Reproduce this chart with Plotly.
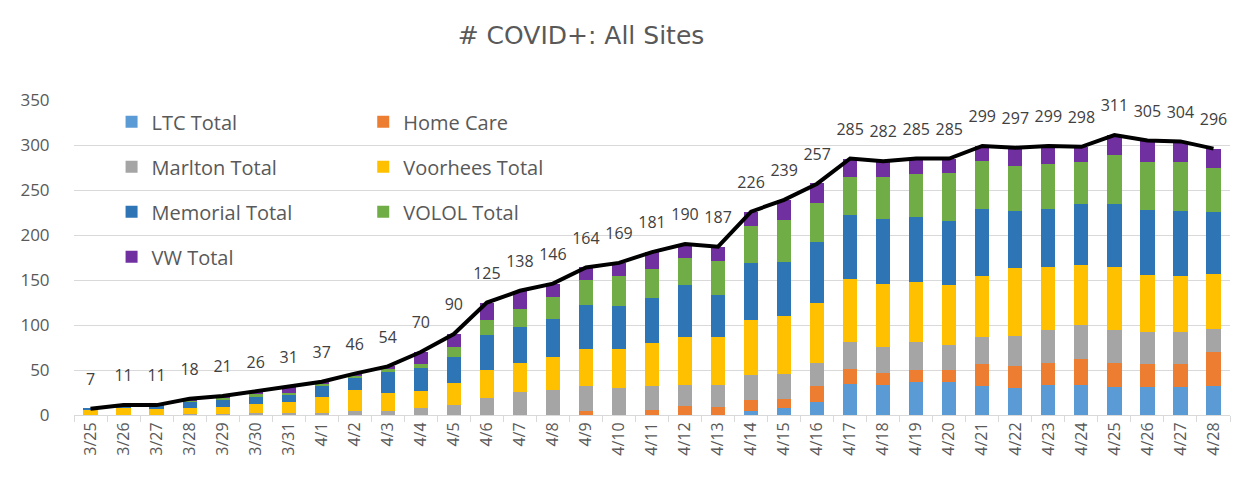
import plotly.graph_objects as go

dates = ["3/25","3/26","3/27","3/28","3/29","3/30","3/31","4/1","4/2","4/3","4/4","4/5",
         "4/6","4/7","4/8","4/9","4/10","4/11","4/12","4/13","4/14","4/15","4/16",
         "4/17","4/18","4/19","4/20","4/21","4/22","4/23","4/24","4/25","4/26","4/27","4/28"]

ltc      = [0,0,0,0,0,0,0,0,0,0,0,0, 0,0,0,0,0,0,0,0,4,8,15, 35,33,37,37,32,30,33,33,31,31,31,32]
homecare = [0,0,0,0,0,0,0,0,0,0,0,0, 0,0,0,4,0,6,10,9,13,10,17, 16,14,13,13,25,24,25,29,27,26,26,38]
marlton  = [0,0,0,1,1,2,2,2,4,4,8,11, 19,26,28,28,30,26,23,24,27,28,26, 30,29,31,28,30,34,37,38,36,35,35,26]
voorhees = [6,8,7,7,8,10,13,18,24,21,19,25, 31,32,37,41,43,48,54,54,62,64,67, 70,70,67,66,67,75,70,67,70,64,63,61]
memorial = [1,2,3,7,8,9,8,13,14,23,25,29, 39,40,42,49,48,50,58,46,63,60,67, 71,72,72,72,75,64,64,68,70,72,72,69]
volol    = [0,1,0,1,2,2,2,1,1,3,5,11, 17,20,24,28,33,32,29,38,41,47,44, 43,47,48,53,53,50,50,46,55,53,54,48]
vw       = [0,0,1,2,2,3,6,3,3,3,13,14, 19,20,15,14,15,19,16,16,16,22,22, 20,17,17,16,17,20,20,17,22,24,23,22]
totals   = [7,11,11,18,21,26,31,37,46,54,70,90,125,138,146,164,169,181,190,187,226,239,257,
            285,282,285,285,299,297,299,298,311,305,304,296]

series = [
    ("LTC Total", ltc, "#5B9BD5", "legend"),
    ("Home Care", homecare, "#ED7D31", "legend2"),
    ("Marlton Total", marlton, "#A5A5A5", "legend"),
    ("Voorhees Total", voorhees, "#FFC000", "legend2"),
    ("Memorial Total", memorial, "#2E75B6", "legend"),
    ("VOLOL Total", volol, "#70AD47", "legend2"),
    ("VW Total", vw, "#7030A0", "legend"),
]

FONT = "'Open Sans', sans-serif"
GREY = "#595959"

fig = go.Figure()
for i, (name, vals, color, lg) in enumerate(series):
    fig.add_trace(go.Bar(x=dates, y=vals, name=name, marker_color=color,
                         marker_line_width=0, legend=lg, legendgroup=name))

fig.add_trace(go.Scatter(x=dates, y=totals, mode="lines+markers+text", showlegend=False,
                         line=dict(color="black", width=4),
                         marker=dict(size=30, color="rgba(0,0,0,0)"),
                         text=[str(t) for t in totals], textposition="top center",
                         textfont=dict(size=16, color="#404040", family=FONT),
                         cliponaxis=False, hoverinfo="skip"))

legend_common = dict(bgcolor="rgba(0,0,0,0)", font=dict(size=20, color=GREY, family=FONT),
                     tracegroupgap=16, yanchor="top", xanchor="left", traceorder="grouped")

fig.update_layout(
    width=1247, height=491,
    barmode="stack", bargap=0.57,
    plot_bgcolor="white", paper_bgcolor="white",
    margin=dict(l=55, r=25, t=92, b=84),
    font=dict(family=FONT, color=GREY),
    title=dict(text="# COVID+: All Sites", x=0.4595, xanchor="center", y=0.945, yanchor="middle",
               font=dict(size=25, color=GREY, family="'DejaVu Sans', sans-serif")),
    legend=dict(x=0.0325, y=0.993, **legend_common),
    legend2=dict(x=0.2502, y=0.993, **legend_common),
    xaxis=dict(type="category", range=[-0.5, len(dates) - 0.5], autorange=False,
               tickangle=-90, tickfont=dict(size=16, color=GREY),
               showgrid=False, showline=True, linecolor="#d9d9d9", linewidth=1,
               ticks="outside", tickson="boundaries", ticklen=6, tickcolor="#d9d9d9"),
    yaxis=dict(range=[0, 350], dtick=50, tickfont=dict(size=17, color=GREY),
               showgrid=True, gridcolor="#d9d9d9", gridwidth=1, zeroline=False,
               ticks="outside", ticklen=20, tickcolor="rgba(0,0,0,0)", showline=False),
)

fig.write_html("out.html")
